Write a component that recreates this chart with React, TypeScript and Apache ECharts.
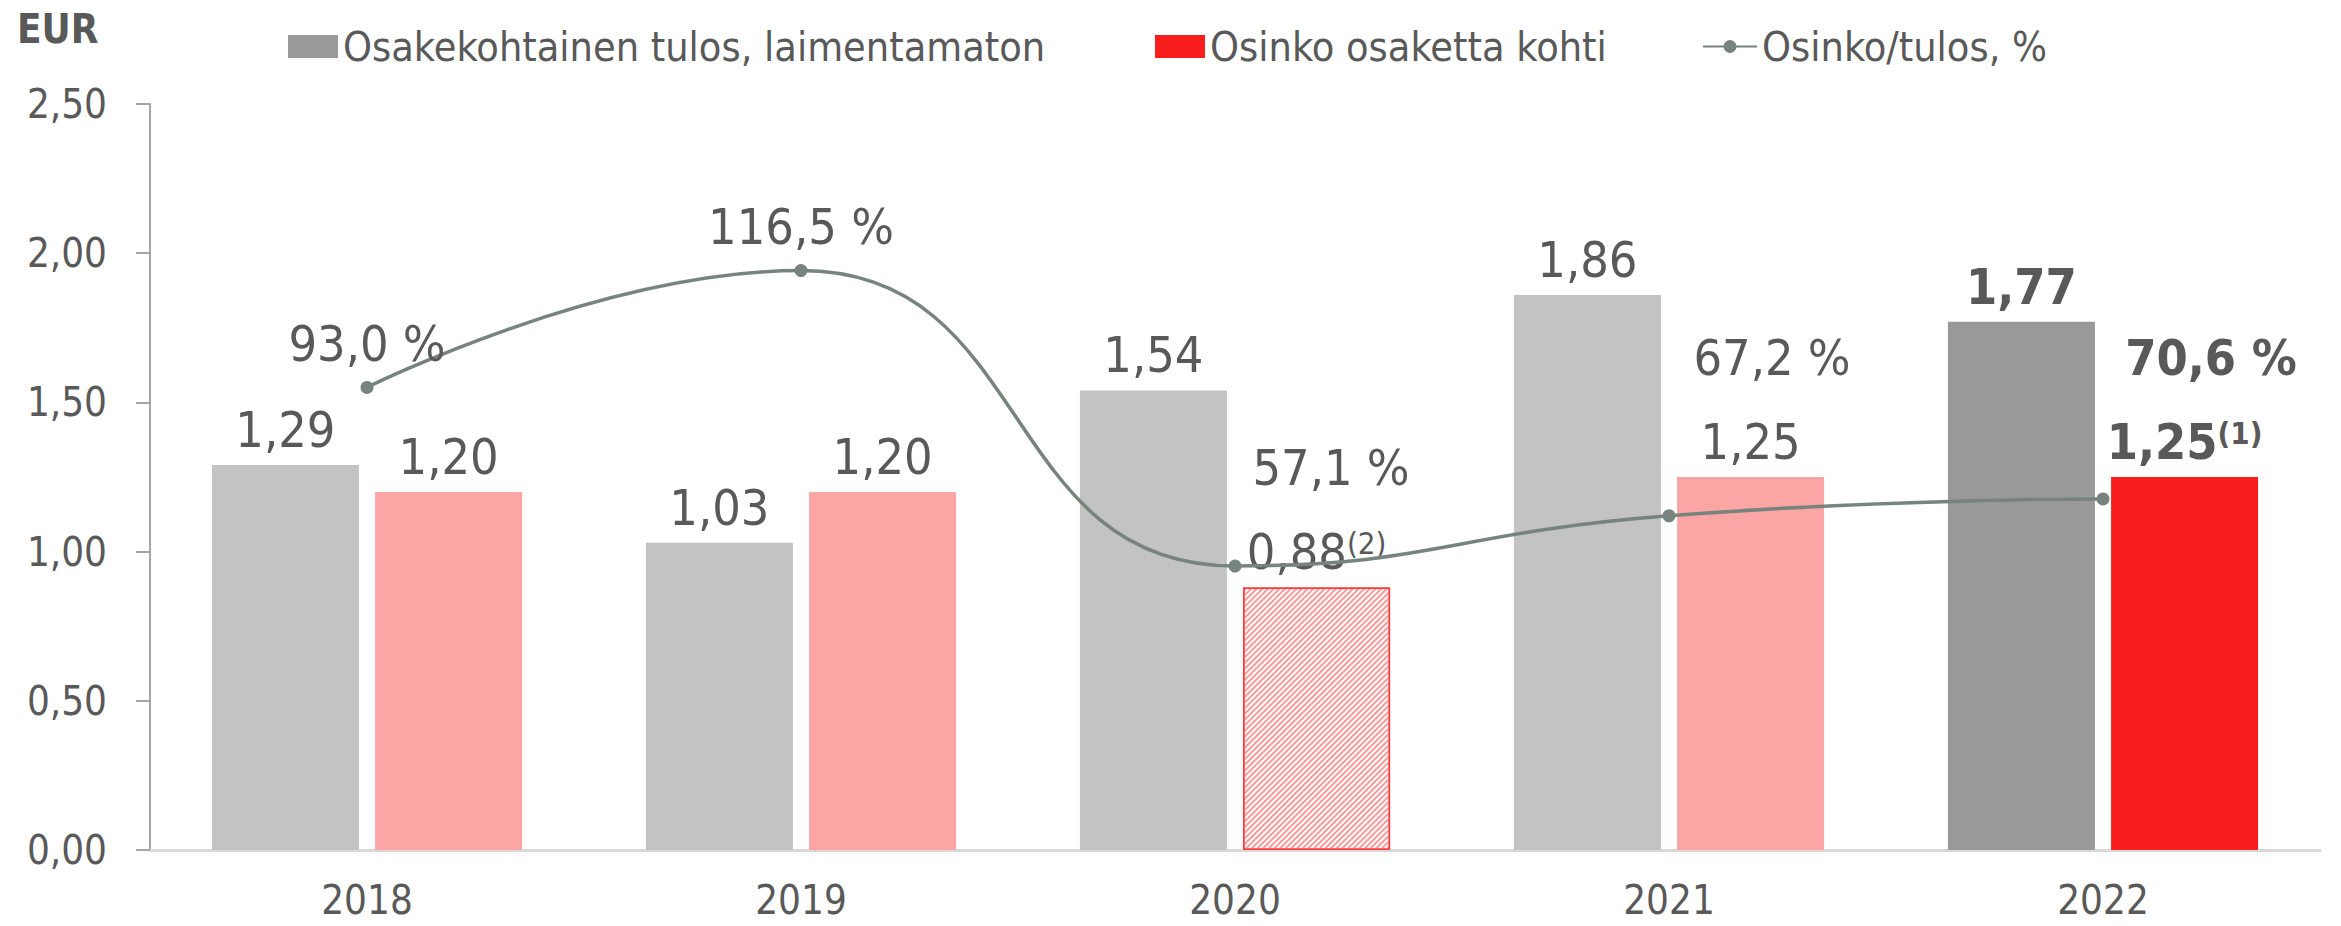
import React, { useEffect, useRef } from "react";
import * as echarts from "echarts";

// ---- data ----
const years = ["2018", "2019", "2020", "2021", "2022"];
const epsValues = [1.29, 1.03, 1.54, 1.86, 1.77];
const dividendValues = [1.2, 1.2, 0.88, 1.25, 1.25];
const payoutRatios = [93.0, 116.5, 57.1, 67.2, 70.6];
const dividendNotes = ["", "", "(2)", "", "(1)"];

const seriesNames = [
  "Osakekohtainen tulos, laimentamaton",
  "Osinko osaketta kohti",
  "Osinko/tulos, %",
];

// ---- styles ----
const FONT = "'DejaVu Sans Condensed', 'DejaVu Sans', sans-serif";
const TEXT = "#595959";
const epsColors = ["#c3c3c3", "#c3c3c3", "#c3c3c3", "#c3c3c3", "#999999"];
const divColors = ["#fba5a5", "#fba5a5", "#ffffff", "#fba5a5", "#f81e1e"];
const boldIndex = 4;
const hatchedIndex = 2;
const ratioLabelOffsets = [
  [0, 0],
  [0, 0],
  [96, -55],
  [103, -114],
  [108, -97],
];

const fmt2 = (v: number) => v.toFixed(2).replace(".", ",");
const fmtPct = (v: number) => v.toFixed(1).replace(".", ",") + " %";

export default function App() {
  const ref = useRef<HTMLDivElement>(null);

  useEffect(() => {
    if (!ref.current) return;
    const chart = echarts.init(ref.current, undefined, { renderer: "svg" });

    const labelBase = {
      show: true,
      position: "top",
      distance: 10,
      color: TEXT,
      fontSize: 50,
      fontFamily: FONT,
    };

    const epsData = epsValues.map((v, i) => ({
      value: v,
      itemStyle: { color: epsColors[i] },
      label: {
        ...labelBase,
        fontWeight: i === boldIndex ? "bold" : "normal",
        formatter: fmt2(v),
      },
    }));

    const divData = dividendValues.map((v, i) => {
      const bold = i === boldIndex;
      const note = dividendNotes[i];
      const item: any = {
        value: v,
        itemStyle: { color: divColors[i] },
        label: {
          ...labelBase,
          formatter: note ? `{v|${fmt2(v)}}{s|${note}}` : `{v|${fmt2(v)}}`,
          rich: {
            v: {
              fontSize: 50,
              fontFamily: FONT,
              color: TEXT,
              fontWeight: bold ? "bold" : "normal",
            },
            s: {
              fontSize: 31,
              fontFamily: FONT,
              color: TEXT,
              fontWeight: bold ? "bold" : "normal",
              verticalAlign: "top",
            },
          },
        },
      };
      if (i === hatchedIndex) {
        item.itemStyle = {
          color: "#ffffff",
          borderColor: "#ff3b3b",
          borderWidth: 1.5,
          decal: {
            symbol: "rect",
            color: "#f89a9a",
            dashArrayX: [1, 0],
            dashArrayY: [2, 2],
            rotation: -Math.PI / 4,
            symbolSize: 1,
          },
        };
      }
      return item;
    });

    const ratioData = payoutRatios.map((v, i) => ({
      value: v,
      label: {
        show: true,
        position: "top",
        distance: 12,
        color: TEXT,
        fontSize: 50,
        fontFamily: FONT,
        fontWeight: i === boldIndex ? "bold" : "normal",
        offset: ratioLabelOffsets[i],
        formatter: fmtPct(v),
      },
    }));

    const legendCommon = {
      top: 21,
      itemGap: 0,
      textStyle: { color: TEXT, fontSize: 41, fontFamily: FONT },
    };

    chart.setOption({
      animation: false,
      textStyle: { fontFamily: FONT },
      title: {
        text: "EUR",
        left: 12,
        top: 4,
        textStyle: { color: TEXT, fontSize: 40, fontWeight: "bold", fontFamily: FONT },
      },
      legend: [
        {
          ...legendCommon,
          left: 283,
          data: [{ name: seriesNames[0], icon: "rect" }],
          itemWidth: 50,
          itemHeight: 23,
        },
        {
          ...legendCommon,
          left: 1150,
          data: [{ name: seriesNames[1], icon: "rect" }],
          itemWidth: 50,
          itemHeight: 23,
        },
        {
          ...legendCommon,
          left: 1697,
          data: [seriesNames[2]],
          itemWidth: 54,
          itemHeight: 16,
        },
      ],
      grid: { left: 150, right: 21, top: 104, bottom: 76, containLabel: false },
      xAxis: {
        type: "category",
        data: years,
        axisLine: { lineStyle: { color: "#d9d9d9", width: 3 } },
        axisTick: { show: false },
        axisLabel: {
          color: TEXT,
          fontSize: 40,
          lineHeight: 36,
          margin: 32,
          fontFamily: FONT,
        },
      },
      yAxis: [
        {
          type: "value",
          min: 0,
          max: 2.5,
          interval: 0.5,
          axisLine: { show: true, lineStyle: { color: "#a6a6a6", width: 2 } },
          axisTick: { show: true, length: 14, lineStyle: { color: "#a6a6a6", width: 2 } },
          splitLine: { show: false },
          axisLabel: {
            color: TEXT,
            fontSize: 40,
            margin: 43,
            fontFamily: FONT,
            formatter: (v: number) => fmt2(v),
          },
        },
        {
          type: "value",
          min: 0,
          max: 150,
          show: false,
          splitLine: { show: false },
        },
      ],
      series: [
        {
          name: seriesNames[0],
          type: "bar",
          barWidth: 147,
          barGap: "11%",
          itemStyle: { color: "#999999" },
          data: epsData,
        },
        {
          name: seriesNames[1],
          type: "bar",
          barWidth: 147,
          barGap: "11%",
          itemStyle: { color: "#f81e1e" },
          data: divData,
        },
        {
          name: seriesNames[2],
          type: "line",
          yAxisIndex: 1,
          smooth: 0.5,
          symbol: "circle",
          symbolSize: 13,
          z: 5,
          itemStyle: { color: "#76847d" },
          lineStyle: { color: "#76847d", width: 3.5 },
          data: ratioData,
        },
      ],
    });

    return () => chart.dispose();
  }, []);

  return (
    <div
      ref={ref}
      style={{ position: "fixed", left: 0, top: 0, width: 2341, height: 926, background: "#fff" }}
    />
  );
}
